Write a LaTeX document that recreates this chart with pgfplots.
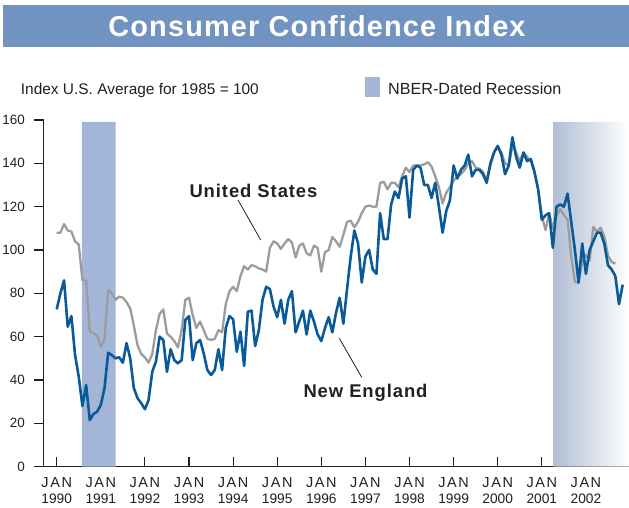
\documentclass[border=0pt]{standalone}
\usepackage{fontspec}
\setmainfont{Liberation Sans}
\usepackage{pgfplots}
\pgfplotsset{compat=1.18}
\usepackage{pgfplotstable}
\definecolor{banner}{HTML}{7193C1}
\definecolor{recA}{HTML}{A3B6D8}
\definecolor{recB}{HTML}{B1BFD4}
\definecolor{neblue}{HTML}{0A5A9A}
\definecolor{usgray}{HTML}{9C9C9C}
\definecolor{txt}{HTML}{231F20}

\pgfplotstableread{
m v
0 72.6
1 80
2 86
3 64.6
4 69.5
5 51.5
6 41.5
7 28
8 37.7
9 21.5
10 24.3
11 25.4
12 28.5
13 36.2
14 52.6
15 51.5
16 50
17 50.5
18 48
19 57
20 50
21 36.2
22 31.6
23 29.3
24 26.5
25 30.8
26 43.8
27 48.5
28 60
29 58.5
30 43.8
31 54.2
32 49.2
33 47.7
34 49.2
35 67.7
36 69.5
37 49.2
38 57
39 58.5
40 52.3
41 44.6
42 42.3
43 44.6
44 54.2
45 44.6
46 64
47 69.5
48 68
49 53
50 62.3
51 46.5
52 71.5
53 72
54 55.7
55 63
56 77
57 83
58 82
59 74
60 69
61 77
62 66
63 77
64 81
65 62
66 67
67 72
68 61
69 72
70 67
71 61
72 58
73 64
74 69
75 62
76 71
77 78
78 66
79 82
80 97
81 109
82 103
83 85
84 97
85 100
86 91
87 89
88 117
89 105
90 105
91 121
92 127
93 124
94 133
95 134
96 115
97 137
98 139
99 138
100 130
101 130
102 124
103 131
104 120
105 108
106 118
107 123
108 139
109 133
110 137
111 139
112 144
113 134
114 137
115 137
116 135
117 131
118 140
119 145
120 148
121 144
122 135
123 139
124 152
125 143
126 138
127 145
128 141
129 142
130 136
131 128
132 114
133 116
134 117
135 101
136 120
137 121
138 120
139 126
140 113
141 100
142 85
143 103
144 89
145 100
146 104
147 108
148 108
149 103
150 93
151 91
152 88
153 75
154 84
}\nedata

\pgfplotstableread{
m v
0 108
1 108
2 112
3 109
4 108.5
5 104
6 102.5
7 86
8 86
9 62.5
10 61.5
11 60.5
12 55.2
13 58.7
14 81.5
15 80
16 77
17 78.5
18 78
19 76
20 73
21 65
22 56
23 52
24 50.5
25 48
26 52
27 63
28 70.5
29 72.6
30 61.5
31 60
32 58
33 55
34 63
35 77
36 78
37 70
38 64
39 67
40 63
41 59
42 58.5
43 59
44 63
45 62
46 75
47 81
48 83
49 81
50 88
51 92.5
52 91
53 93
54 92.5
55 91.5
56 91
57 90
58 101
59 104
60 103
61 100.5
62 103
63 105
64 103.5
65 96.5
66 102
67 103
68 98.5
69 97.5
70 102
71 101
72 90
73 99
74 100
75 106
76 104
77 101.5
78 107
79 113
80 113.5
81 110.5
82 113
83 117
84 120
85 120.5
86 120
87 120
88 131
89 131.5
90 128
91 131
92 131
93 129
94 134
95 138
96 136
97 139
98 139
99 139
100 139.5
101 140.5
102 138.5
103 134
104 129
105 121.5
106 126.5
107 129
108 132
109 134
110 135
111 137
112 140
113 141
114 138
115 137.5
116 136
117 132
118 139
119 145
120 148
121 145
122 140
123 139
124 148
125 145
126 141
127 145
128 143
129 141
130 136
131 128
132 115.7
133 109.2
134 116.9
135 109.9
136 116.1
137 118.9
138 116.3
139 114
140 97
141 85.3
142 84.9
143 94.6
144 97.8
145 95
146 110.7
147 108.5
148 110.3
149 106.3
150 97.4
151 94.5
152 93.7
}\usdata

\newcommand{\J}{{\fontsize{14.5}{16}\selectfont\addfontfeature{LetterSpace=11}JAN}}

\begin{document}
\begin{tikzpicture}[x=1bp,y=1bp]
\useasboundingbox (0,0) rectangle (629,508);
\fill[banner] (3,461) rectangle (629,503);
\node[anchor=base, text=white, inner sep=0pt, font=\fontsize{29}{30}\selectfont\bfseries\addfontfeature{LetterSpace=4}] at (317,471) {Consumer Confidence Index};
\node[anchor=base west, inner sep=0pt, text=txt, font=\fontsize{15.5}{16}\selectfont] at (20.7,413.7) {Index U.S. Average for 1985 = 100};
\fill[recA] (365,411) rectangle (380,431);
\node[anchor=base west, inner sep=0pt, text=txt, font=\fontsize{16.2}{17}\selectfont] at (388,413.7) {NBER-Dated Recession};
\begin{axis}[
  at={(43.7bp,41.3bp)}, anchor=south west, scale only axis,
  width=585.3bp, height=346.7bp,
  xmin=1989.705, xmax=2002.977, ymin=0, ymax=160,
  axis lines*=left,
  axis line style={txt, line width=1.1bp},
  tick align=inside, major tick length=9.3bp,
  tick style={txt, line width=1.1bp},
  every y tick/.append style={xshift=-9.3bp},
  xtick={1990,1991,1992,1993,1994,1995,1996,1997,1998,1999,2000,2001,2002},
  xticklabels={{\J\\1990},{\J\\1991},{\J\\1992},{\J\\1993},{\J\\1994},{\J\\1995},{\J\\1996},{\J\\1997},{\J\\1998},{\J\\1999},{\J\\2000},{\J\\2001},{\J\\2002}},
  xticklabel style={align=center, font=\fontsize{13.8}{16}\selectfont, text=txt, inner sep=0pt, anchor=north, yshift=-10.9bp},
  ytick={0,20,40,60,80,100,120,140,160},
  yticklabel style={font=\fontsize{13.5}{14}\selectfont, text=txt, inner sep=0pt, anchor=east, xshift=-18.7bp},
  /pgf/number format/assume math mode=true,
]
\addplot[draw=none, fill=recA] coordinates {(1990.573,0) (1990.573,159.1) (1991.338,159.1) (1991.338,0)} \closedcycle;
\addplot[draw=none, left color=recB, right color=white] coordinates {(2001.261,0) (2001.261,159.1) (2002.977,159.1) (2002.977,0)} \closedcycle;
\addplot[usgray, line width=2.3bp, line join=round] table[x expr=1990+\thisrow{m}/12, y=v] {\usdata};
\addplot[neblue, line width=2.6bp, line join=round] table[x expr=1990+\thisrow{m}/12, y=v] {\nedata};
\end{axis}
\node[anchor=base west, inner sep=0pt, text=txt, font=\fontsize{18.5}{20}\selectfont\bfseries\addfontfeature{LetterSpace=5}] at (189.3,310.7) {United States};
\draw[txt, line width=0.8bp] (238,308) -- (260.7,268);
\node[anchor=base west, inner sep=0pt, text=txt, font=\fontsize{18.5}{20}\selectfont\bfseries\addfontfeature{LetterSpace=5}] at (303.3,110.7) {New England};
\draw[txt, line width=0.8bp] (339.3,169.7) -- (361.7,130.7);
\end{tikzpicture}
\end{document}
